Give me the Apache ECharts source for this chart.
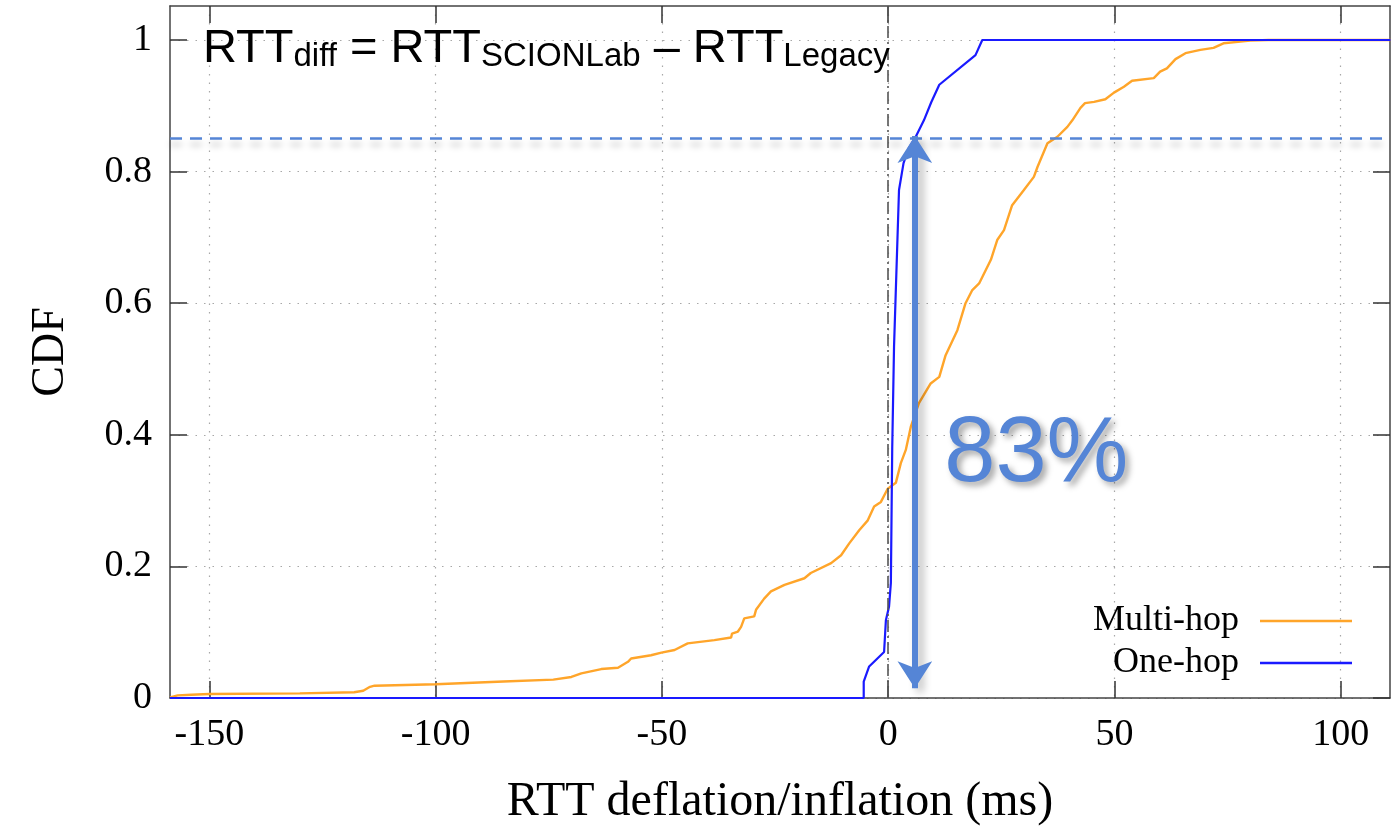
<!DOCTYPE html>
<html>
<head>
<meta charset="utf-8">
<title>RTT diff CDF</title>
<script src="https://cdn.jsdelivr.net/npm/echarts@6/dist/echarts.min.js"></script>
<style>
  html, body { margin: 0; padding: 0; background: #fff; }
  #chart { width: 1397px; height: 827px; }
</style>
</head>
<body>
<div id="chart"></div>
<script>
// x ticks / y ticks
const xTicks = [-150, -100, -50, 0, 50, 100]
const yTicks = [0, 0.2, 0.4, 0.6, 0.8, 1]

// Multi-hop CDF
const multiX = [-158.7, -157, -154, -150, -130, -118, -116, -114.5, -113.5, -100, -85, -74, -70, -67.8, -63.4, -59.7, -57.5, -56.8, -52.4, -50.1, -47.2, -44.3, -38.4, -34.7, -34.5, -33.2, -32.5, -31.8, -29.6, -29.2, -27.4, -25.9, -22.9, -18.5, -17.1, -12.6, -10.4, -8.6, -6.4, -4.5, -3.1, -1.6, -0.1, 1.7, 2.8, 3.9, 5.0, 6.8, 9.4, 11.3, 12.7, 15.3, 17.1, 18.6, 20.1, 22.7, 24.1, 25.6, 27.4, 30.0, 32.2, 33.0, 35.2, 37.4, 39.6, 40.7, 42.5, 43.5, 45.5, 48.0, 49.9, 52.1, 53.9, 58.7, 60.1, 61.6, 63.5, 65.7, 69.0, 71.9, 74.1, 80, 84, 111]
const multiY = [0.001, 0.004, 0.005, 0.006, 0.007, 0.0087, 0.011, 0.017, 0.0187, 0.021, 0.025, 0.028, 0.032, 0.0375, 0.044, 0.046, 0.055, 0.06, 0.065, 0.069, 0.073, 0.083, 0.088, 0.092, 0.098, 0.101, 0.108, 0.121, 0.124, 0.134, 0.151, 0.162, 0.172, 0.182, 0.19, 0.205, 0.217, 0.235, 0.255, 0.27, 0.291, 0.298, 0.318, 0.327, 0.357, 0.377, 0.412, 0.448, 0.478, 0.488, 0.521, 0.559, 0.6, 0.62, 0.63, 0.666, 0.696, 0.711, 0.749, 0.772, 0.792, 0.807, 0.843, 0.853, 0.868, 0.878, 0.897, 0.904, 0.906, 0.91, 0.92, 0.929, 0.938, 0.942, 0.952, 0.957, 0.971, 0.98, 0.985, 0.988, 0.995, 0.999, 1.0, 1.0]

// One-hop CDF
const oneX = [-158.7, -5.4, -5.4, -4.2, -0.9, -0.5, 0.2, 0.6, 0.9, 1.3, 2.4, 3.4, 4.5, 6.1, 7.9, 9.5, 11.3, 19.3, 20.8, 111]
const oneY = [0, 0, 0.025, 0.048, 0.07, 0.118, 0.139, 0.175, 0.38, 0.534, 0.772, 0.813, 0.835, 0.853, 0.878, 0.905, 0.932, 0.977, 1.0, 1.0]

// annotation: share of one-hop pairs below the dashed line
const markLevel = 0.854
const arrowX = 5.9
const arrowBottom = 0.015

const zip = (xs, ys) => xs.map((x, i) => [x, ys[i]])

const serif = 'Liberation Serif'
const sans = 'Liberation Sans'
const accent = '#5585d6'

const tickStyle = { show: true, inside: true, length: 17, lineStyle: { color: '#333', width: 1.5 } }
const lineAxis = { show: true, onZero: false, lineStyle: { color: '#444', width: 1.5 } }
const dotted = { show: true, lineStyle: { color: '#a8a8a8', width: 1.2, type: [1.5, 7] } }

const chart = echarts.init(document.getElementById('chart'), null, { renderer: 'canvas' })

chart.setOption({
  backgroundColor: '#fff',
  animation: false,
  title: {
    left: 203,
    top: 27,
    padding: 0,
    text: '{m|RTT}{s|diff}{m| = RTT}{s|SCIONLab}{m| – RTT}{s|Legacy}',
    textStyle: {
      fontWeight: 'normal',
      rich: {
        m: { fontFamily: sans, fontWeight: 'normal', fontSize: 47, lineHeight: 46, color: '#000', verticalAlign: 'bottom' },
        s: { fontFamily: sans, fontWeight: 'normal', fontSize: 33, lineHeight: 20, color: '#000', verticalAlign: 'bottom' },
      },
    },
  },
  legend: {
    orient: 'vertical',
    align: 'right',
    right: 40,
    top: 598,
    icon: 'rect',
    itemWidth: 92,
    itemHeight: 2.5,
    itemGap: 6,
    data: ['Multi-hop', 'One-hop'],
    textStyle: { fontFamily: serif, fontSize: 36, lineHeight: 35, color: '#000', padding: [0, 16, 0, 0] },
  },
  grid: { left: 170, right: 7, top: 6, bottom: 129, outerBoundsMode: 'none' },
  xAxis: [
    {
      type: 'value',
      min: -158.7,
      max: 110.9,
      name: 'RTT deflation/inflation (ms)',
      nameLocation: 'middle',
      nameGap: 80,
      nameTextStyle: { fontFamily: serif, fontSize: 48, color: '#000' },
      axisLine: lineAxis,
      axisTick: { ...tickStyle, customValues: xTicks },
      axisLabel: { customValues: xTicks, fontFamily: serif, fontSize: 38, color: '#000', margin: 18 },
      splitLine: dotted,
    },
    {
      type: 'value',
      position: 'top',
      min: -158.7,
      max: 110.9,
      axisLine: lineAxis,
      axisTick: { ...tickStyle, customValues: xTicks },
      axisLabel: { show: false, customValues: xTicks },
      splitLine: { show: false },
    },
  ],
  yAxis: [
    {
      type: 'value',
      min: 0,
      max: 1.0517,
      name: 'CDF',
      nameLocation: 'middle',
      nameGap: 96,
      nameRotate: 90,
      nameTextStyle: { fontFamily: serif, fontSize: 46, color: '#000' },
      axisLine: lineAxis,
      axisTick: { ...tickStyle, customValues: yTicks },
      axisLabel: {
        customValues: yTicks,
        fontFamily: serif,
        fontSize: 38,
        color: '#000',
        margin: 18,
        formatter: (v) => String(+(+v).toFixed(1)),
      },
      splitLine: dotted,
    },
    {
      type: 'value',
      position: 'right',
      min: 0,
      max: 1.0517,
      axisLine: lineAxis,
      axisTick: { ...tickStyle, customValues: yTicks },
      axisLabel: { show: false, customValues: yTicks },
      splitLine: { show: false },
    },
  ],
  series: [
    {
      name: 'Multi-hop',
      type: 'line',
      symbol: 'none',
      color: '#ffa52a',
      lineStyle: { width: 2.4, color: '#ffa52a' },
      data: zip(multiX, multiY),
      z: 3,
      markLine: {
        silent: true,
        symbol: 'none',
        label: { show: false },
        lineStyle: { color: '#555', width: 1.6, type: [12, 4, 2, 4] },
        data: [{ xAxis: 0 }],
      },
    },
    {
      name: 'One-hop',
      type: 'line',
      symbol: 'none',
      color: '#1a1aff',
      lineStyle: { width: 2.2, color: '#1a1aff' },
      data: zip(oneX, oneY),
      z: 4,
      markLine: {
        silent: true,
        symbol: 'none',
        label: { show: false },
        lineStyle: {
          color: accent,
          width: 2.5,
          type: [12, 8],
          shadowColor: 'rgba(0,0,0,0.25)',
          shadowBlur: 6,
          shadowOffsetY: 6,
        },
        data: [{ yAxis: markLevel }],
      },
    },
    {
      name: 'annotation',
      type: 'line',
      data: [],
      z: 6,
      markLine: {
        silent: true,
        symbol: ['arrow', 'arrow'],
        symbolSize: [26, 27],
        label: { show: false },
        lineStyle: {
          color: accent,
          width: 6,
          type: 'solid',
          shadowColor: 'rgba(0,0,0,0.3)',
          shadowBlur: 8,
          shadowOffsetX: 5,
          shadowOffsetY: 4,
        },
        data: [[{ coord: [arrowX, markLevel] }, { coord: [arrowX, arrowBottom] }]],
      },
      markPoint: {
        silent: true,
        symbol: 'circle',
        symbolSize: 0,
        data: [{ coord: [12.4, 0.369], value: '83%' }],
        label: {
          show: true,
          position: 'inside',
          align: 'left',
          verticalAlign: 'middle',
          formatter: '83%',
          fontFamily: sans,
          fontSize: 92,
          color: accent,
          textShadowColor: 'rgba(0,0,0,0.35)',
          textShadowBlur: 6,
          textShadowOffsetX: 4,
          textShadowOffsetY: 4,
        },
      },
    },
  ],
})
</script>
</body>
</html>
